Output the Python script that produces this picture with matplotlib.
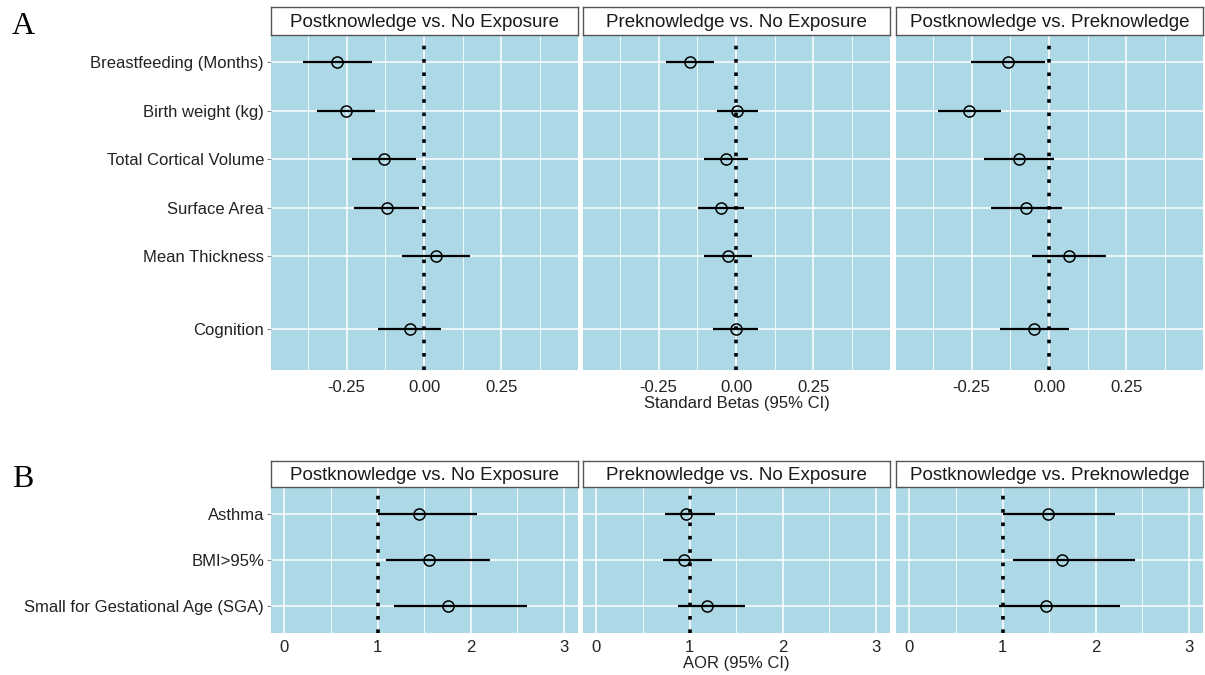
import numpy as np
import matplotlib.pyplot as plt

plt.rcParams['font.family'] = ['Liberation Sans', 'DejaVu Sans']

facets = ['Postknowledge vs. No Exposure', 'Preknowledge vs. No Exposure',
          'Postknowledge vs. Preknowledge']

# panel A: standardized betas
a_labels = ['Breastfeeding (Months)', 'Birth weight (kg)', 'Total Cortical Volume',
            'Surface Area', 'Mean Thickness', 'Cognition']
a_ypos = [6.5, 5.5, 4.5, 3.5, 2.5, 1.0]
a_est = [[-0.28, -0.253, -0.128, -0.119, 0.039, -0.045],
         [-0.147, 0.004, -0.032, -0.048, -0.027, 0.0],
         [-0.133, -0.258, -0.096, -0.073, 0.066, -0.047]]
a_lo = [[-0.39, -0.346, -0.231, -0.225, -0.071, -0.148],
        [-0.226, -0.063, -0.105, -0.122, -0.104, -0.073],
        [-0.252, -0.36, -0.209, -0.188, -0.055, -0.157]]
a_hi = [[-0.167, -0.158, -0.026, -0.015, 0.148, 0.055],
        [-0.07, 0.07, 0.04, 0.025, 0.05, 0.07],
        [-0.013, -0.155, 0.015, 0.041, 0.184, 0.063]]

# panel B: adjusted odds ratios
b_labels = ['Asthma', 'BMI>95%', 'Small for Gestational Age (SGA)']
b_ypos = [3, 2, 1]
b_est = [[1.443, 1.551, 1.757],
         [0.964, 0.946, 1.193],
         [1.486, 1.638, 1.465]]
b_lo = [[1.0, 1.09, 1.18],
        [0.74, 0.71, 0.878],
        [1.0, 1.11, 0.96]]
b_hi = [[2.064, 2.208, 2.605],
        [1.273, 1.24, 1.60],
        [2.205, 2.427, 2.26]]

W, H = 1205, 675
fig = plt.figure(figsize=(W / 100, H / 100), dpi=100)

xcols = [(271, 578), (583, 890), (896, 1203)]


def px_axes(x0, x1, y0, y1):
    return fig.add_axes([x0 / W, 1 - y1 / H, (x1 - x0) / W, (y1 - y0) / H])


def draw_panel(top, bottom, strip_top, labels, ypos, est, lo, hi, ref,
               xlim, ylim, major, minor, ticklabels, xtitle, tpad):
    for i, (x0, x1) in enumerate(xcols):
        ax = px_axes(x0, x1, top, bottom)
        ax.set_facecolor('#add8e6')
        for s in ax.spines.values():
            s.set_visible(False)
        ax.set_xlim(*xlim)
        ax.set_ylim(*ylim)
        ax.set_xticks(major)
        ax.set_xticks(minor, minor=True)
        ax.set_yticks(ypos)
        ax.grid(True, which='major', color='white', lw=1.1)
        ax.grid(True, which='minor', axis='x', color='white', lw=0.6)
        ax.set_axisbelow(True)
        ax.tick_params(axis='x', which='both', length=0, labelsize=12, pad=tpad,
                       labelcolor='#222222')
        ax.tick_params(axis='y', length=3, color='#888888', labelsize=12,
                       labelcolor='#222222', pad=2)
        ax.set_xticklabels(ticklabels)
        if i == 0:
            ax.set_yticklabels(labels)
        else:
            ax.set_yticklabels([])
            ax.tick_params(axis='y', length=0)
        ax.axvline(ref, color='black', lw=2.6, ls=(0, (1, 2.7)), zorder=2)
        ax.hlines(ypos, lo[i], hi[i], color='black', lw=1.6, zorder=3)
        ax.plot(est[i], ypos, 'o', ms=8, mfc='none', mec='black', mew=1.1,
                zorder=4)
        # strip
        sax = px_axes(x0, x1, strip_top, top)
        sax.set_xticks([])
        sax.set_yticks([])
        sax.set_facecolor('white')
        for s in sax.spines.values():
            s.set_color('#555555')
            s.set_linewidth(1.0)
        sax.text(0.5, 0.45, facets[i], ha='center', va='center', fontsize=13.5,
                 color='#1a1a1a', transform=sax.transAxes)
        if i == 1:
            ax.set_xlabel(xtitle, fontsize=12, color='#222222', labelpad=1)


draw_panel(35, 370, 7, a_labels, a_ypos, a_est, a_lo, a_hi, 0.0,
           (-0.494, 0.497), (0.155, 7.06),
           [-0.25, 0, 0.25], [-0.375, -0.125, 0.125, 0.375],
           ['-0.25', '0.00', '0.25'], 'Standard Betas (95% CI)', 7)

draw_panel(487, 633, 461, b_labels, b_ypos, b_est, b_lo, b_hi, 1.0,
           (-0.145, 3.155), (0.4, 3.6),
           [0, 1, 2, 3], [0.5, 1.5, 2.5],
           ['0', '1', '2', '3'], 'AOR (95% CI)', 5)

fig.text(12 / W, 1 - 34 / H, 'A', fontsize=23, family='Liberation Serif')
fig.text(12 / W, 1 - 487 / H, 'B', fontsize=23, family='Liberation Serif')

fig.savefig('out.png', dpi=100, facecolor='white')
